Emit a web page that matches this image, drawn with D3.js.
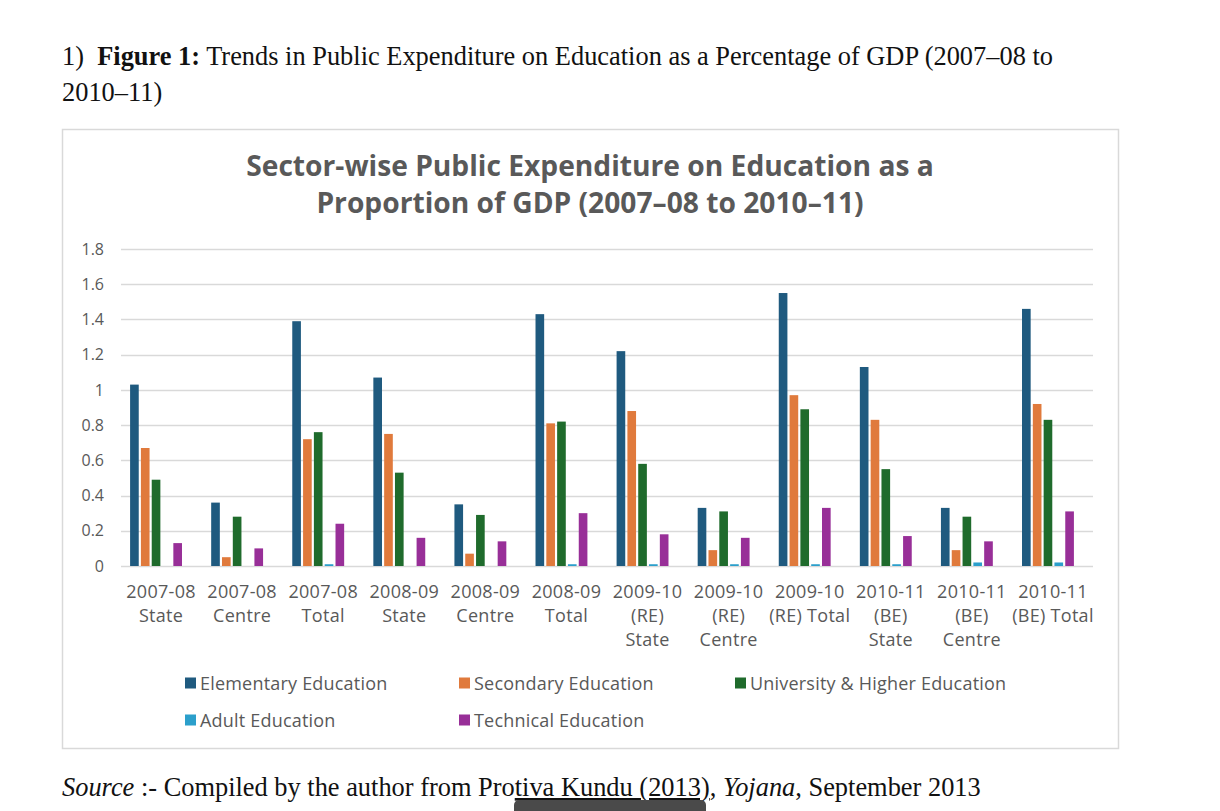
<!DOCTYPE html>
<html>
<head>
<meta charset="utf-8">
<script src="https://cdn.jsdelivr.net/npm/d3@7"></script>
<style>
  body { margin: 0; background: #fff; }
  svg { display: block; }
  text { white-space: pre; }
</style>
</head>
<body>
<script>
// categories on the x axis, one entry per line of the wrapped label
var categories = [
  ['2007-08', 'State'], ['2007-08', 'Centre'], ['2007-08', 'Total'],
  ['2008-09', 'State'], ['2008-09', 'Centre'], ['2008-09', 'Total'],
  ['2009-10', '(RE)', 'State'], ['2009-10', '(RE)', 'Centre'], ['2009-10', '(RE) Total'],
  ['2010-11', '(BE)', 'State'], ['2010-11', '(BE)', 'Centre'], ['2010-11', '(BE) Total']
];
var seriesNames = ['Elementary Education', 'Secondary Education', 'University & Higher Education',
                   'Adult Education', 'Technical Education'];
var elementary = [1.03, 0.36, 1.39, 1.07, 0.35, 1.43, 1.22, 0.33, 1.55, 1.13, 0.33, 1.46];
var secondary  = [0.67, 0.05, 0.72, 0.75, 0.07, 0.81, 0.88, 0.09, 0.97, 0.83, 0.09, 0.92];
var university = [0.49, 0.28, 0.76, 0.53, 0.29, 0.82, 0.58, 0.31, 0.89, 0.55, 0.28, 0.83];
var adult      = [0.00, 0.00, 0.01, 0.00, 0.00, 0.01, 0.01, 0.01, 0.01, 0.01, 0.02, 0.02];
var technical  = [0.13, 0.10, 0.24, 0.16, 0.14, 0.30, 0.18, 0.16, 0.33, 0.17, 0.14, 0.31];
var yTicks = [0, 0.2, 0.4, 0.6, 0.8, 1, 1.2, 1.4, 1.6, 1.8];

var colors = ['#1f5a7f', '#e07a3c', '#1f6b2c', '#2b9fcb', '#982f98'];
var allSeries = [elementary, secondary, university, adult, technical];

var W = 1220, H = 811;
var serif = 'Liberation Serif, Times New Roman, serif';
var sans = 'Open Sans, sans-serif';
var svg = d3.select('body').append('svg')
    .attr('width', W)
    .attr('height', H);

// ---- document header (Times-like) ----
var head = svg.append('text')
    .attr('x', 62).attr('y', 65)
    .style('font-family', serif)
    .style('font-size', '26.4px')
    .style('fill', '#111');
head.append('tspan').text('1)  ');
head.append('tspan').style('font-weight', 'bold').text('Figure 1:');
head.append('tspan').text(' Trends in Public Expenditure on Education as a Percentage of GDP (2007\u201308 to');
svg.append('text')
    .attr('x', 62).attr('y', 101)
    .style('font-family', serif)
    .style('font-size', '26.4px')
    .style('fill', '#111')
    .text('2010\u201311)');

// ---- chart frame ----
svg.append('rect')
    .attr('x', 62.5).attr('y', 129.5)
    .attr('width', 1056).attr('height', 619)
    .style('fill', '#fff')
    .style('stroke', '#d9d9d9')
    .style('stroke-width', 1.5);

var title = svg.append('g')
    .style('font-family', sans)
    .style('font-weight', 'bold')
    .style('font-size', '28.2px')
    .style('fill', '#595959')
    .attr('text-anchor', 'middle');
title.append('text').attr('x', 590).attr('y', 176)
    .text('Sector-wise Public Expenditure on Education as a');
title.append('text').attr('x', 590).attr('y', 213)
    .text('Proportion of GDP (2007\u201308 to 2010\u201311)');

// ---- scales ----
var y = d3.scaleLinear().domain([0, 1.8]).range([566, 249]);
var x0 = d3.scaleBand()
    .domain(d3.range(categories.length))
    .range([115.5, 1088.5])
    .paddingInner(0.36)
    .paddingOuter(0.18);
var x1 = d3.scaleBand()
    .domain(d3.range(seriesNames.length))
    .range([0, x0.bandwidth()])
    .paddingInner(0.2);

// gridlines
svg.append('g').selectAll('line')
    .data(yTicks)
    .enter()
    .append('line')
    .attr('x1', 121).attr('x2', 1093)
    .attr('y1', function(d){ return Math.round(y(d)) + 0.5; })
    .attr('y2', function(d){ return Math.round(y(d)) + 0.5; })
    .style('stroke', '#d9d9d9')
    .style('stroke-width', 1.3);

// y axis labels
var yAxis = svg.append('g')
    .attr('transform', 'translate(104,0)')
    .call(d3.axisLeft(y).tickValues(yTicks).tickSize(0).tickPadding(0)
        .tickFormat(function(d){ return d3.format('')(+d.toFixed(1)); }));
yAxis.select('.domain').remove();
yAxis.selectAll('text')
    .style('font-family', sans)
    .style('font-size', '16px')
    .style('fill', '#595959');

// bars
var groups = svg.append('g').selectAll('.cat')
    .data(categories)
    .enter()
    .append('g')
    .attr('class', 'cat')
    .attr('transform', function(d, i){ return 'translate(' + x0(i) + ',0)'; });
groups.selectAll('rect')
    .data(function(d, i){ return allSeries.map(function(s, k){ return {k: k, v: s[i]}; }); })
    .enter()
    .append('rect')
    .attr('x', function(d){ return x1(d.k); })
    .attr('width', x1.bandwidth())
    .attr('y', function(d){ return y(d.v); })
    .attr('height', function(d){ return y(0) - y(d.v); })
    .style('fill', function(d){ return colors[d.k]; });

// x labels (sit a little right of the bar groups, as in the original)
var xl = svg.append('g')
    .style('font-family', sans)
    .style('font-size', '18px')
    .style('letter-spacing', '0.3px')
    .style('fill', '#595959')
    .attr('text-anchor', 'middle');
xl.selectAll('text')
    .data(categories)
    .enter()
    .append('text')
    .attr('x', function(d, i){ return x0(i) + x0.bandwidth() / 2 + 5; })
    .attr('y', 598)
    .each(function(d){
        var t = d3.select(this);
        d.forEach(function(line, j){
            t.append('tspan')
                .attr('x', t.attr('x'))
                .attr('dy', j === 0 ? 0 : 24)
                .text(line);
        });
    });

// legend
var legendPos = [[185, 683], [459, 683], [735, 683], [185, 720], [459, 720]];
var legend = svg.append('g').selectAll('.leg')
    .data(seriesNames)
    .enter()
    .append('g')
    .attr('class', 'leg')
    .attr('transform', function(d, i){ return 'translate(' + legendPos[i][0] + ',' + legendPos[i][1] + ')'; });
legend.append('rect')
    .attr('x', 0).attr('y', -5.5)
    .attr('width', 11).attr('height', 11)
    .style('fill', function(d, i){ return colors[i]; });
legend.append('text')
    .attr('x', 15).attr('y', 6.5)
    .style('font-family', sans)
    .style('font-size', '18px')
    .style('letter-spacing', '0.2px')
    .style('fill', '#595959')
    .text(function(d){ return d; });

// ---- source line ----
var src = svg.append('text')
    .attr('x', 62).attr('y', 796)
    .style('font-family', serif)
    .style('font-size', '26.4px')
    .style('fill', '#111');
src.append('tspan').style('font-style', 'italic').text('Source');
src.append('tspan').text(' :- Compiled by the author from Pro');
src.append('tspan').style('text-decoration', 'underline').text('tiva Kundu (2013)');
src.append('tspan').text(', ');
src.append('tspan').style('font-style', 'italic').text('Yojana');
src.append('tspan').text(', September 2013');

// dark overlay tab at the bottom
svg.append('rect')
    .attr('x', 514).attr('y', 800)
    .attr('width', 192).attr('height', 24)
    .attr('rx', 5)
    .style('fill', '#4a4a4a');
</script>
</body>
</html>
